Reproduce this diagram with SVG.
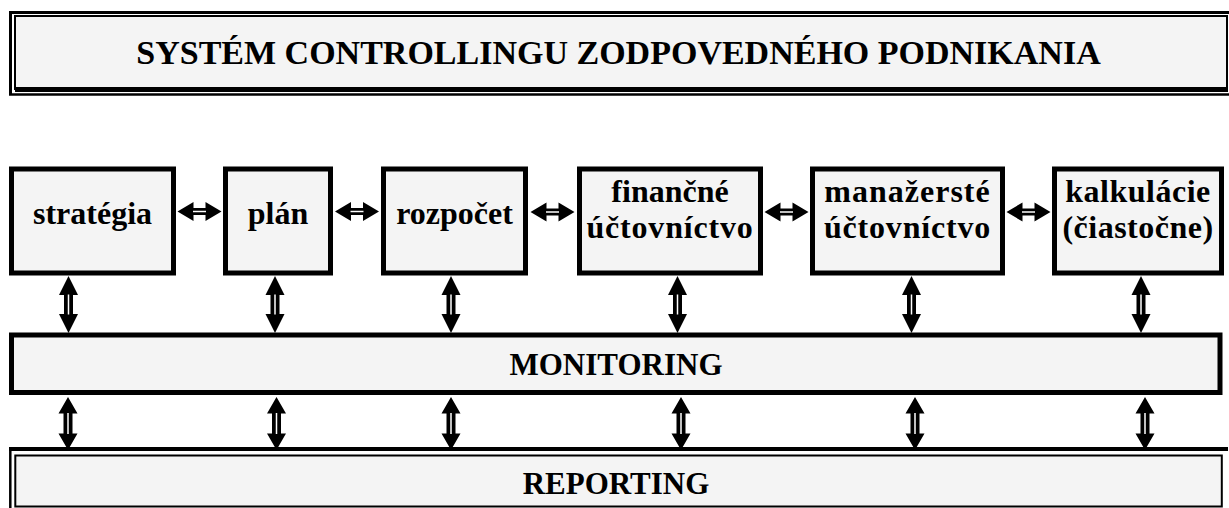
<svg xmlns="http://www.w3.org/2000/svg" width="1229" height="508" viewBox="0 0 1229 508">
<style>
.t{font-family:"Liberation Serif","Times New Roman",serif;font-weight:bold;fill:#000;text-anchor:middle}
.box{fill:#f4f4f4;stroke:#000;stroke-width:5}
.ln{fill:none;stroke:#000}
</style>
<defs>
<g id="ha">
<path d="M-22,0 L-6,-9.5 L-6,-3.5 L6,-3.5 L6,-9.5 L22,0 L6,9.5 L6,3.5 L-6,3.5 L-6,9.5 Z" fill="#000"/>
<line x1="-6.5" y1="0" x2="6.5" y2="0" stroke="#fff" stroke-width="1.5"/>
</g>
<g id="va">
<path d="M0,-28.5 L9.5,-9.5 L4.5,-9.5 L4.5,9.5 L9.5,9.5 L0,28.5 L-9.5,9.5 L-4.5,9.5 L-4.5,-9.5 L-9.5,-9.5 Z" fill="#000"/>
<line x1="0" y1="-10" x2="0" y2="10" stroke="#fff" stroke-width="1.5"/>
</g>
<g id="vb">
<path d="M0,-26.5 L9.5,-10 L4.5,-10 L4.5,10 L9.5,10 L0,26.5 L-9.5,10 L-4.5,10 L-4.5,-10 L-9.5,-10 Z" fill="#000"/>
<line x1="0" y1="-10.5" x2="0" y2="10.5" stroke="#fff" stroke-width="1.5"/>
</g>
</defs>
<rect width="1229" height="508" fill="#fff"/>

<g id="title">
<rect x="15" y="16" width="1212" height="73" fill="#f4f4f4" stroke="#000" stroke-width="2"/>
<line class="ln" x1="15" y1="89.5" x2="1228" y2="89.5" stroke-width="5"/>
<path class="ln" d="M10.5,95 L10.5,12.5 L1229,12.5" stroke-width="3"/>
<line class="ln" x1="9" y1="94.5" x2="1229" y2="94.5" stroke-width="2.5"/>
<text class="t" x="618.5" y="64" font-size="34">SYSTÉM CONTROLLINGU ZODPOVEDNÉHO PODNIKANIA</text>
</g>

<g id="strategia">
<rect class="box" x="11.5" y="169" width="162" height="104"/>
<text class="t" x="92.5" y="224" font-size="32">stratégia</text>
</g>
<g id="plan">
<rect class="box" x="225.5" y="169" width="105" height="104"/>
<text class="t" x="278" y="224" font-size="32">plán</text>
</g>
<g id="rozpocet">
<rect class="box" x="383.5" y="169" width="142" height="104"/>
<text class="t" x="454.5" y="224" font-size="32">rozpočet</text>
</g>
<g id="financne">
<rect class="box" x="579.5" y="169" width="181" height="104"/>
<text class="t" x="670" y="202" font-size="32">finančné</text>
<text class="t" x="670" y="238" font-size="32" letter-spacing="0.8">účtovníctvo</text>
</g>
<g id="manazerske">
<rect class="box" x="812.5" y="169" width="190" height="104"/>
<text class="t" x="907.5" y="202" font-size="32" letter-spacing="1">manažersté</text>
<text class="t" x="907.5" y="238" font-size="32" letter-spacing="0.8">účtovníctvo</text>
</g>
<g id="kalkulacie">
<rect class="box" x="1054.5" y="169" width="167" height="104"/>
<text class="t" x="1138" y="202" font-size="32" letter-spacing="0.5">kalkulácie</text>
<text class="t" x="1138" y="238" font-size="32" letter-spacing="0.5">(čiastočne)</text>
</g>

<g id="monitoring">
<rect class="box" x="11.5" y="335" width="1208.5" height="57.5"/>
<text class="t" x="616" y="375" font-size="31">MONITORING</text>
</g>

<g id="reporting">
<rect x="15.3" y="455.5" width="1206.5" height="51" fill="#f4f4f4" stroke="#000" stroke-width="2"/>
<line class="ln" x1="9" y1="449" x2="1228" y2="449" stroke-width="4"/>
<line class="ln" x1="10.3" y1="447" x2="10.3" y2="508" stroke-width="2.5"/>
<text class="t" x="616" y="494" font-size="31">REPORTING</text>
</g>

<g id="connectors">
<use href="#ha" x="199.5" y="211.5"/>
<use href="#ha" x="357" y="211.5"/>
<use href="#ha" x="552.5" y="212"/>
<use href="#ha" x="786.5" y="212"/>
<use href="#ha" x="1028.5" y="212"/>
<use href="#va" x="68.5" y="304.5"/>
<use href="#va" x="275" y="304.5"/>
<use href="#va" x="451" y="304.5"/>
<use href="#va" x="677.5" y="304.5"/>
<use href="#va" x="911.5" y="304.5"/>
<use href="#va" x="1141" y="304.5"/>
<use href="#vb" x="68" y="423.5"/>
<use href="#vb" x="276.5" y="423.5"/>
<use href="#vb" x="451" y="423.5"/>
<use href="#vb" x="681" y="423.5"/>
<use href="#vb" x="915" y="423.5"/>
<use href="#vb" x="1145" y="423.5"/>
</g>
</svg>
